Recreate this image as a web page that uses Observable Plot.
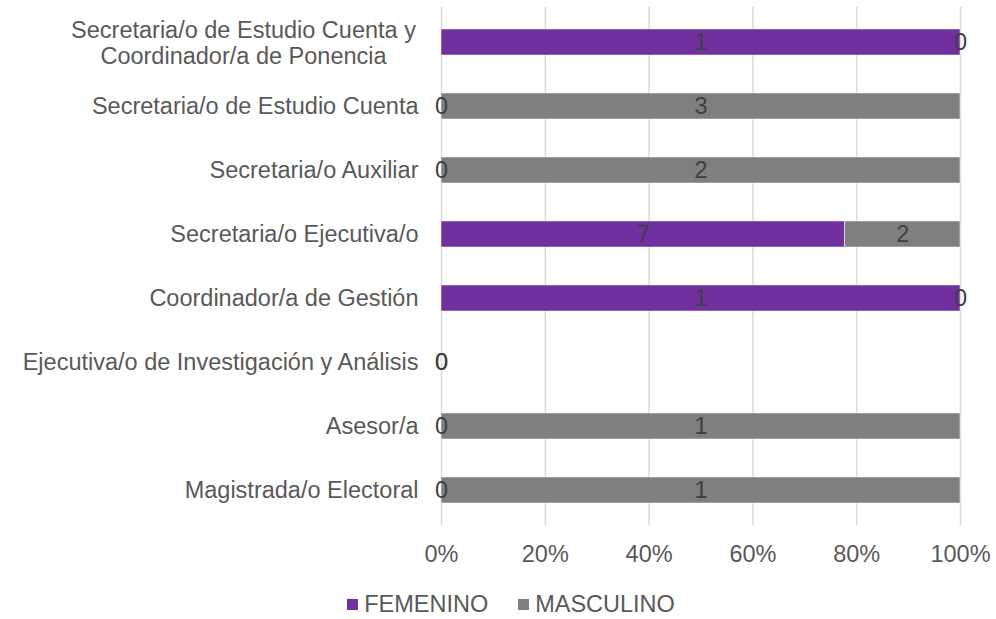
<!DOCTYPE html>
<html><head><meta charset="utf-8">
<script src="https://cdn.jsdelivr.net/npm/d3@7"></script>
<script src="https://cdn.jsdelivr.net/npm/@observablehq/plot@0.6"></script>
<style>
body{margin:0;background:#fff;font-family:"Liberation Sans",Arial,sans-serif}
#legend{display:flex;justify-content:center;gap:30px;padding-left:26px;margin-top:11px;font-size:23.5px;color:#595959;line-height:26px}
.item{display:flex;align-items:center}
.sw{width:11px;height:11px;margin-right:6px;display:inline-block}
</style></head><body><div id="chart"></div><div id="legend"></div>
<script>
const categories = [
  "Secretaria/o de Estudio Cuenta y Coordinador/a de Ponencia",
  "Secretaria/o de Estudio Cuenta",
  "Secretaria/o Auxiliar",
  "Secretaria/o Ejecutiva/o",
  "Coordinador/a de Gestión",
  "Ejecutiva/o de Investigación y Análisis",
  "Asesor/a",
  "Magistrada/o Electoral"
];
const femenino  = [1, 0, 0, 7, 1, 0, 0, 0];
const masculino = [0, 3, 2, 2, 0, 0, 1, 1];
const series = ["FEMENINO", "MASCULINO"];
const colors = ["#7030A0", "#7F7F7F"];
const xTicks = [0, 0.2, 0.4, 0.6, 0.8, 1];
const wrapped = {
  "Secretaria/o de Estudio Cuenta y Coordinador/a de Ponencia":
    "Secretaria/o de Estudio Cuenta y\nCoordinador/a de Ponencia"
};

const rows = [];
categories.forEach((c, i) => {
  const t = femenino[i] + masculino[i];
  rows.push({cat: c, sex: series[0], n: femenino[i], share: t ? femenino[i] / t : 0});
  rows.push({cat: c, sex: series[1], n: masculino[i], share: t ? masculino[i] / t : 0});
});

const font = '"Liberation Sans", Arial, sans-serif';
const fs = 23.5;
const plot = Plot.plot({
  width: 996, height: 580,
  marginLeft: 441, marginRight: 36, marginTop: 7, marginBottom: 55,
  style: {fontSize: fs + "px", fontFamily: font, color: "#595959", background: "white"},
  x: {domain: [0, 1], label: null},
  y: {domain: categories, paddingInner: 0.6, paddingOuter: 0.3, label: null},
  color: {domain: series, range: colors},
  marks: [
    Plot.gridX(xTicks, {stroke: "#d9d9d9", strokeOpacity: 1, strokeWidth: 1.5}),
    Plot.barX(rows, Plot.stackX({x: "share", y: "cat", fill: "sex", order: series, stroke: "white", strokeWidth: 0.5})),
    Plot.text(rows, Plot.stackX({x: "share", y: "cat", z: "sex", order: series, text: "n", fill: "#404040", fontSize: fs})),
    Plot.axisX({ticks: xTicks, tickFormat: d3.format(".0%"), tickSize: 0, tickPadding: 20, fill: "#595959", label: null}),
    Plot.axisY({tickSize: 0, tickPadding: 23, tickFormat: d => wrapped[d] ? "" : d, fill: "#595959", label: null}),
    Plot.text([categories[0]], {y: d => d, text: d => wrapped[d], frameAnchor: "left", textAnchor: "middle", dx: -198, lineHeight: 1.12, fill: "#595959", fontSize: fs})
  ]
});
document.getElementById("chart").appendChild(plot);

const legend = document.getElementById("legend");
series.forEach((s, i) => {
  const it = document.createElement("div");
  it.className = "item";
  const sw = document.createElement("span");
  sw.className = "sw";
  sw.style.background = colors[i];
  it.appendChild(sw);
  it.appendChild(document.createTextNode(s));
  legend.appendChild(it);
});
</script>
</body></html>
